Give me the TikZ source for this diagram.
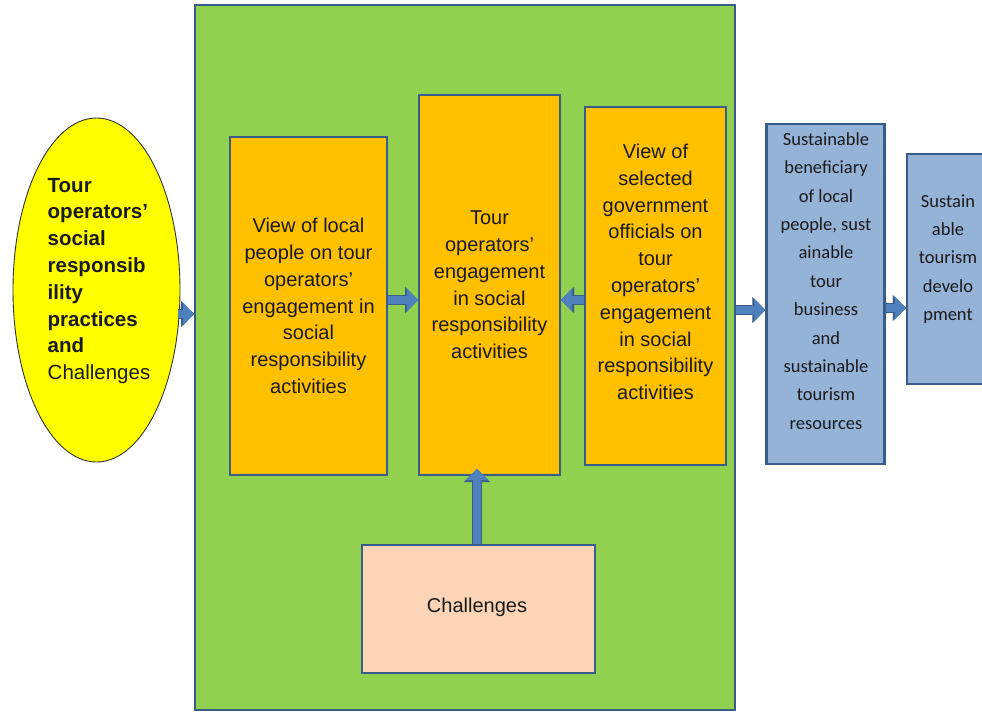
\documentclass[tikz,border=0pt]{standalone}
\usepackage{fontspec}
\setmainfont{Liberation Sans}
\newfontfamily\calibfont{Carlito}
\usetikzlibrary{shapes.geometric,arrows.meta}
\definecolor{framegreen}{HTML}{92D050}
\definecolor{boxorange}{HTML}{FFC000}
\definecolor{ovalyellow}{HTML}{FFFF00}
\definecolor{peach}{HTML}{FBD5B5}
\definecolor{paleblue}{HTML}{95B3D7}
\definecolor{edgeblue}{HTML}{385D8A}
\definecolor{arrowblue}{HTML}{4F81BD}
\definecolor{inktext}{HTML}{1A1A1A}
\tikzset{
  box/.style={draw=edgeblue, line width=2pt, inner sep=0pt},
  txt/.style={align=center, inner sep=0pt, text=inktext, font=\fontsize{20}{26.8}\selectfont},
  bluetxt/.style={align=center, inner sep=0pt, text=inktext, font=\calibfont\fontsize{18.5}{28.4}\selectfont},
  blockarrow/.style={draw=arrowblue, line width=8pt,
    -{Triangle[length=11pt,width=23pt,line width=0.1pt]},
    preaction={draw=edgeblue, line width=10pt,
      -{Triangle[length=13pt,width=26pt,line width=0.1pt]}}}
}
\begin{document}
\begin{tikzpicture}[x=1pt,y=-1pt]
\clip (0,0) rectangle (982,713);
\fill[white] (0,0) rectangle (982,713);

% green frame holding the three views
\node[box, fill=framegreen, minimum width=540pt, minimum height=705pt] (frame) at (465,357.5) {};

% yellow oval on the left
\node[draw=black!80, line width=0.9pt, fill=ovalyellow, ellipse, inner sep=0pt,
      minimum width=167pt, minimum height=344pt] (oval) at (96.5,290) {};
\node[align=left, inner sep=0pt, text=inktext, font=\fontsize{20.5}{26.8}\selectfont] (ovaltxt) at (99,281)
  {\textbf{Tour}\\ \textbf{operators'}\\ \textbf{social}\\ \textbf{responsib}\\ \textbf{ility}\\
   \textbf{practices}\\ \textbf{and}\\ Challenges};

% orange boxes
\node[box, fill=boxorange, minimum width=157pt, minimum height=338pt] (b1) at (308.5,306) {};
\node[txt] (b1txt) at (308.5,306)
  {View of local\\ people on tour\\ operators'\\ engagement in\\ social\\ responsibility\\ activities};

\node[box, fill=boxorange, minimum width=141pt, minimum height=380pt] (b2) at (489.5,285) {};
\node[txt] (b2txt) at (489.5,285)
  {Tour\\ operators'\\ engagement\\ in social\\ responsibility\\ activities};

\node[box, fill=boxorange, minimum width=141pt, minimum height=358pt] (b3) at (655.5,286) {};
\node[txt] (b3txt) at (655.5,272)
  {View of\\ selected\\ government\\ officials on\\ tour\\ operators'\\ engagement\\ in social\\ responsibility\\ activities};

% challenges box
\node[box, fill=peach, minimum width=233pt, minimum height=128pt] (ch) at (478.5,609) {};
\node[txt] (chtxt) at (477,607) {Challenges};

% blue outcome boxes
\node[box, line width=2.5pt, fill=paleblue, minimum width=118pt, minimum height=340pt] (bl1) at (825.5,294) {};
\node[bluetxt] (bl1txt) at (826,281)
  {Sustainable\\ beneficiary\\ of local\\ people, sust\\ ainable\\ tour\\ business\\ and\\ sustainable\\ tourism\\ resources};

\node[box, line width=2.5pt, fill=paleblue, minimum width=83pt, minimum height=230pt] (bl2) at (948.5,269) {};
\node[bluetxt] (bl2txt) at (948,259)
  {Sustain\\ able\\ tourism\\ develo\\ pment};

% block arrows
\coordinate (r0) at (178,314);
\coordinate (r1) at (0,300);
\coordinate (r2) at (0,310);
\coordinate (r3) at (0,308);
\draw[blockarrow] (r0) -- (frame.west |- r0);
\draw[blockarrow] (b1.east |- r1) -- (b2.west |- r1);
\draw[blockarrow] (b3.west |- r1) -- (b2.east |- r1);
\draw[blockarrow] (frame.east |- r2) -- (bl1.west |- r2);
\draw[blockarrow] (bl1.east |- r3) -- (bl2.west |- r3);
\path (ch.north) ++(-1.5,0) coordinate (chfoot);
\path (chfoot |- b2.south) ++(0,-7) coordinate (chtip);
\draw[blockarrow] (chfoot) -- (chtip);
\end{tikzpicture}
\end{document}
